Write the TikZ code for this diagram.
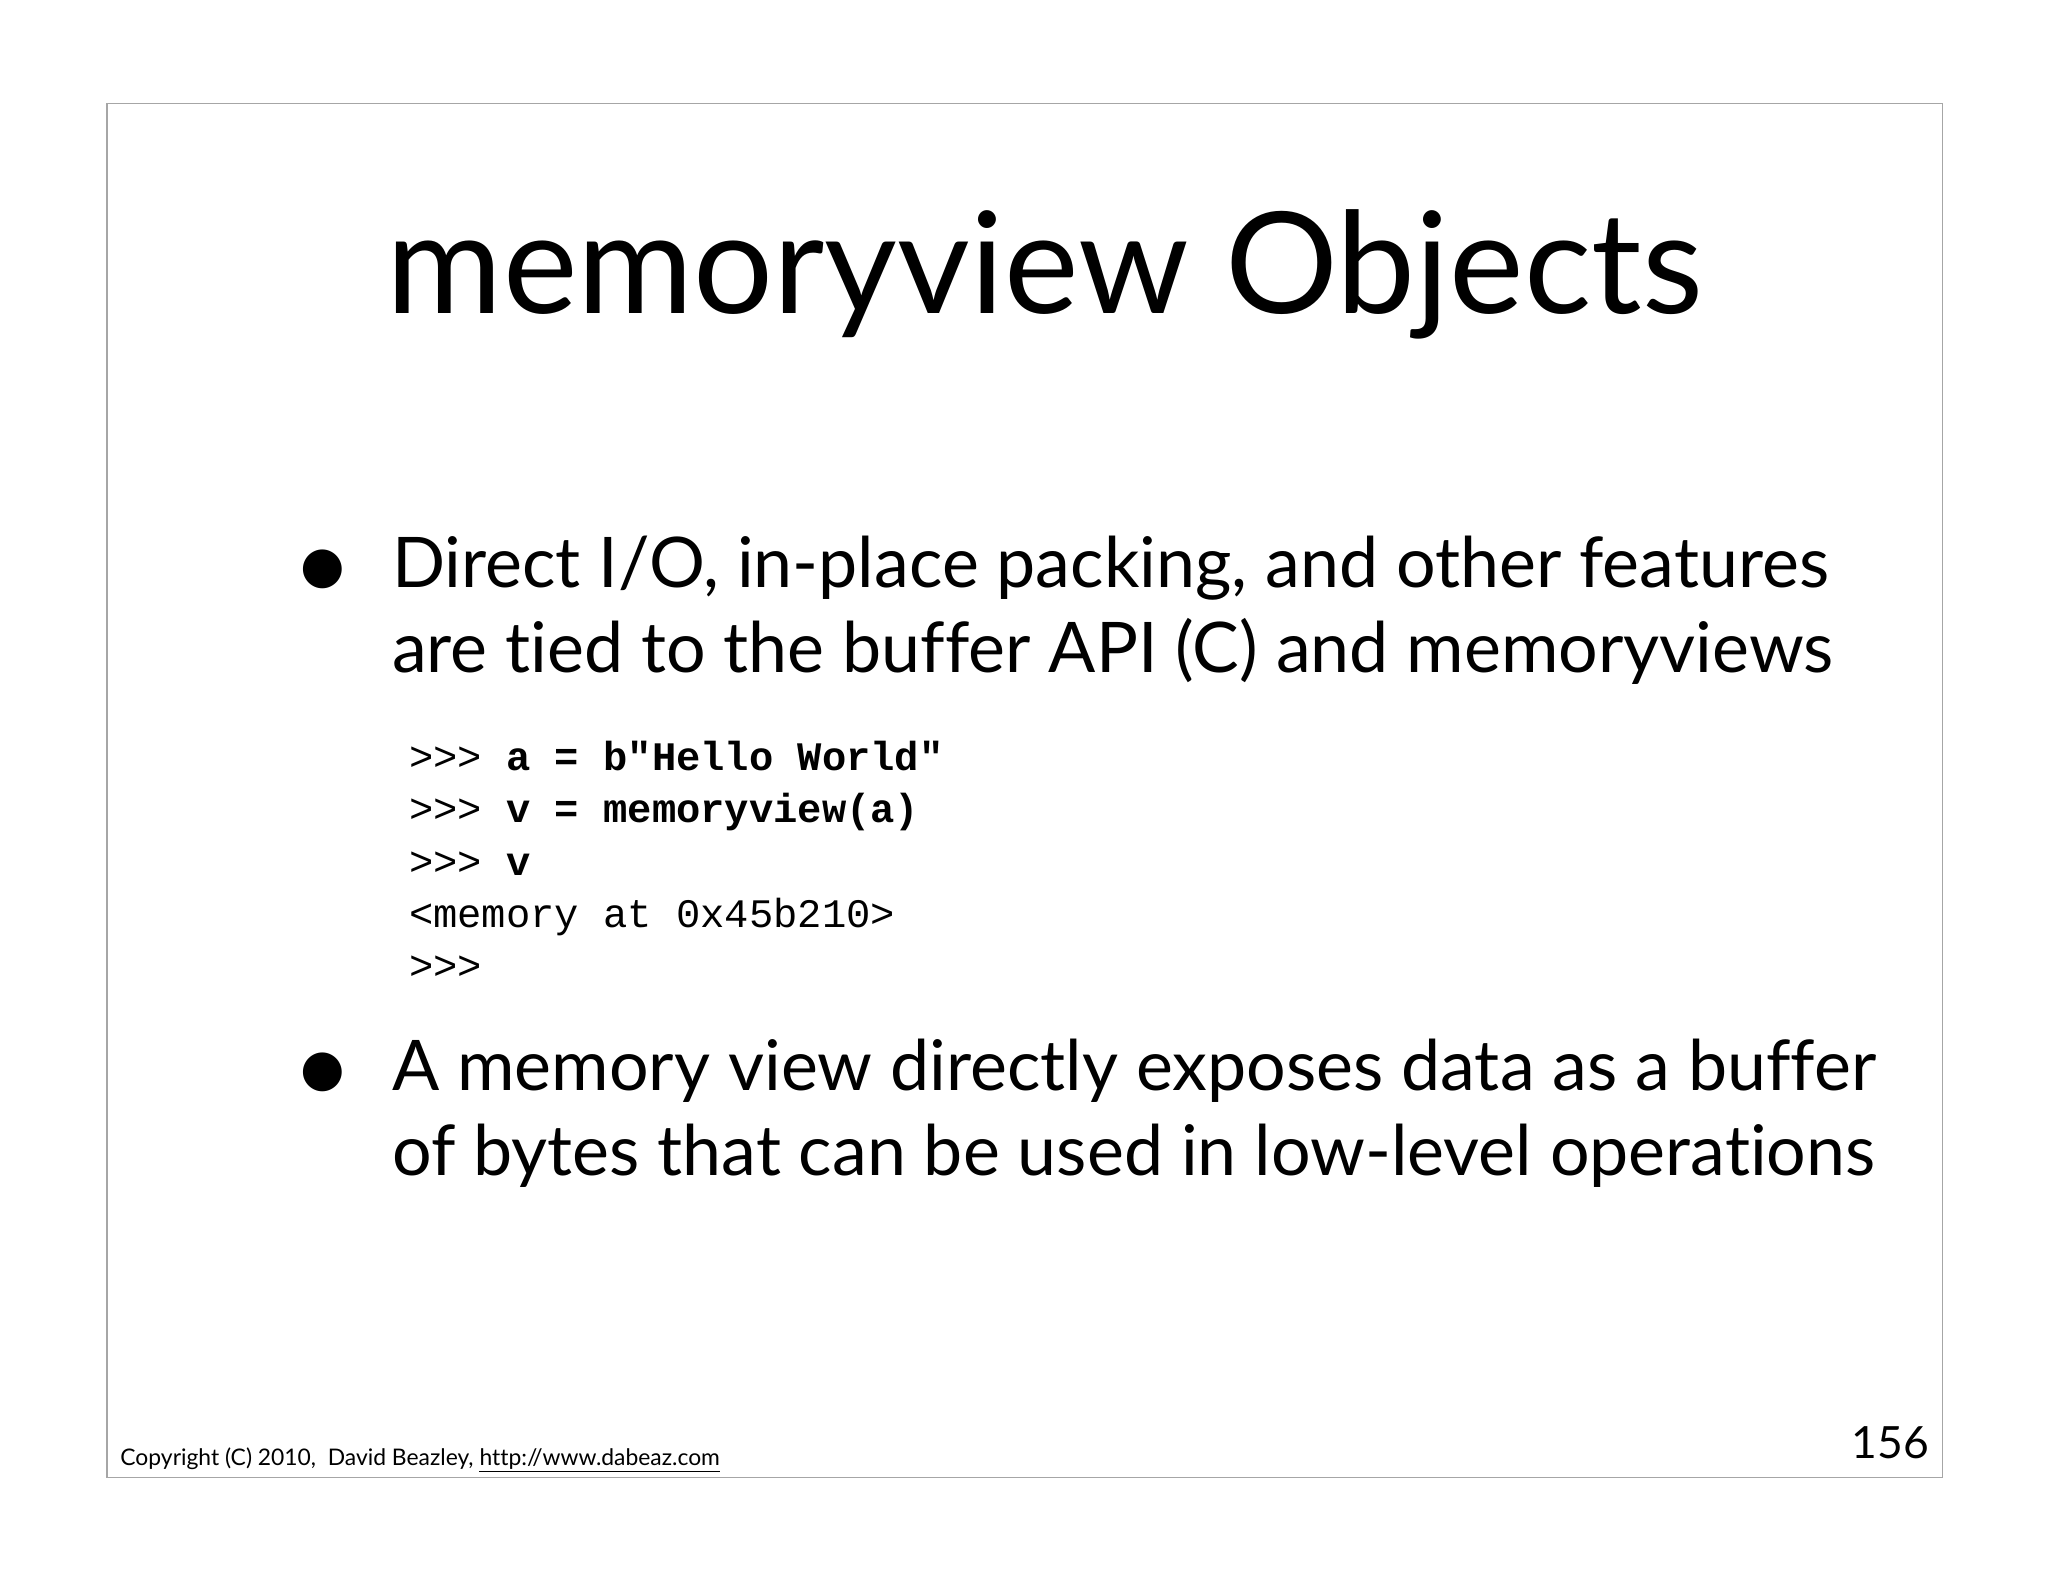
\documentclass[tikz,border=0pt]{standalone}
\usepackage{fontspec}
\setmainfont[Ligatures={NoCommon,NoRequired,NoContextual}]{Lato}
\setmonofont{Liberation Mono}
\usetikzlibrary{positioning}
\tikzset{
  txt/.style={anchor=base west, inner sep=0pt, font=\fontsize{53.5}{60}\selectfont},
  code/.style={anchor=base west, inner sep=0pt, font=\ttfamily\fontsize{31}{40}\selectfont},
  dot/.style={anchor=base west, inner sep=0pt, font=\fontsize{80}{80}\selectfont}
}
\begin{document}
\begin{tikzpicture}[x=1pt,y=-1pt]
\useasboundingbox[fill=white] (0,0) rectangle (1568,1211);
\draw[gray!70, line width=1pt] (82,79) rectangle (1487,1131);

\node[anchor=base, inner sep=0pt, font=\fontsize{108}{110}\selectfont] (title) at (800,240) {memoryview Objects};

% first bullet
\node[dot] (b1) at (224,460) {•};
\node[txt] (l1) at (300,450) {Direct I/O, in-place packing, and other features};
\node[txt] (l2) at (300,515) {are tied to the buffer API (C) and memoryviews};

% code
\node[code] (c1) at (313,590) {>>> \textbf{a = b"Hello World"}};
\node[code] (c2) at (313,630) {>>> \textbf{v = memoryview(a)}};
\node[code] (c3) at (313,670) {>>> \textbf{v}};
\node[code] (c4) at (313,710) {<memory at 0x45b210>};
\node[code] (c5) at (313,750) {>>>};

% second bullet
\node[dot] (b2) at (224,845) {•};
\node[txt] (l3) at (300,835) {A memory view directly exposes data as a buffer};
\node[txt] (l4) at (300,900) {of bytes that can be used in low-level operations};

% footer
\node[anchor=base west, inner sep=0pt, font=\fontsize{17.5}{20}\selectfont] (copy) at (92,1122) {Copyright (C) 2010,\ \ David Beazley, \underline{http://www.dabeaz.com}};
\node[anchor=base east, inner sep=0pt, font=\fontsize{34}{40}\selectfont] (page) at (1477,1117) {156};
\end{tikzpicture}
\end{document}
